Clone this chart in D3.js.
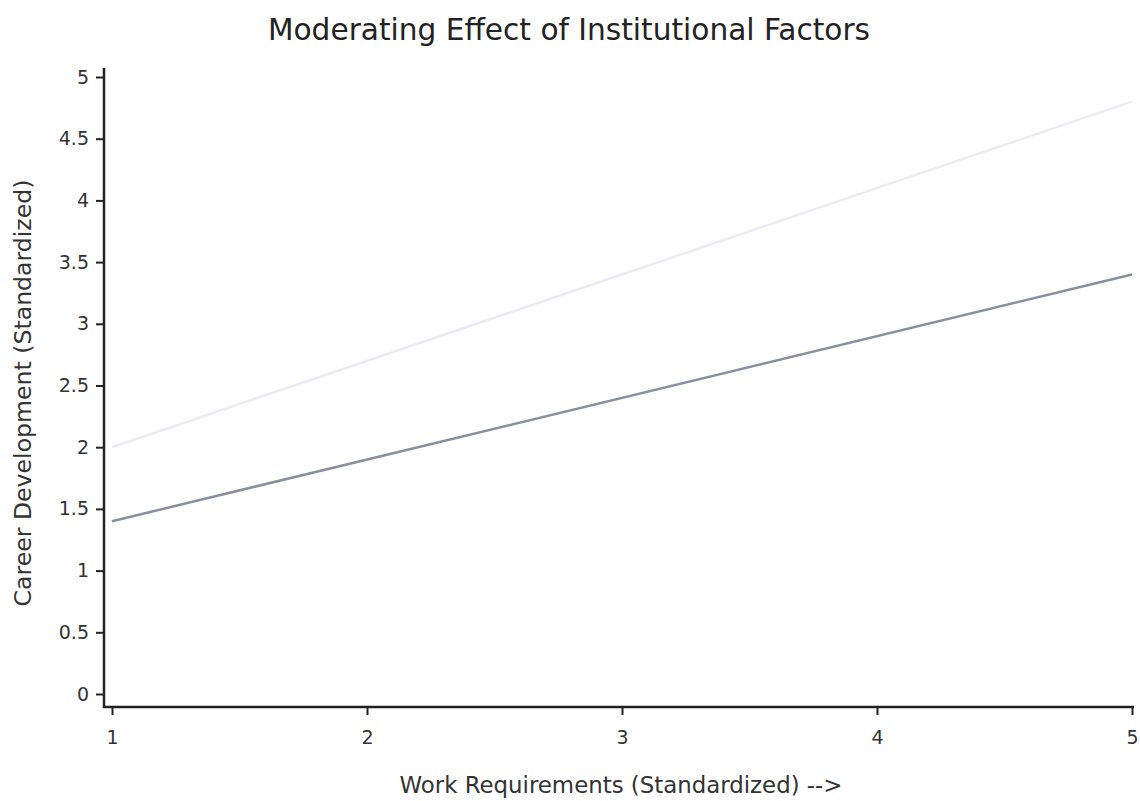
<!DOCTYPE html>
<html><head><meta charset="utf-8">
<script src="https://cdn.jsdelivr.net/npm/d3@7"></script>
<style>body{margin:0;background:#fff}svg{display:block}</style>
</head><body><svg id="c" width="1140" height="801"></svg>
<script>
const workReq = [1, 5];
const highInst = [2.0, 4.8];
const lowInst = [1.4, 3.4];
const xTicks = [1, 2, 3, 4, 5];
const yTicks = [0, 0.5, 1, 1.5, 2, 2.5, 3, 3.5, 4, 4.5, 5];
const title = "Moderating Effect of Institutional Factors";
const xLabel = "Work Requirements (Standardized) -->";
const yLabel = "Career Development (Standardized)";

const svg = d3.select("#c");
const font = "'DejaVu Sans', sans-serif";
const x = d3.scaleLinear().domain([1, 5]).range([112, 1132]);
const y = d3.scaleLinear().domain([0, 5]).range([694, 77]);

function fit(sel, target) {
  const w = sel.node().getComputedTextLength();
  const fs = +sel.attr("font-size");
  sel.attr("font-size", (fs * target / w).toFixed(2));
}

const t = svg.append("text").attr("x", 569).attr("y", 40).attr("text-anchor", "middle")
  .attr("font-family", font).attr("font-size", 28).attr("fill", "#222").text(title);
fit(t, 602);

// y axis
const ya = svg.append("g").attr("transform", "translate(104,0)")
  .call(d3.axisLeft(y).tickValues(yTicks).tickSize(8).tickPadding(7).tickFormat(d3.format("")));
ya.select(".domain").attr("d", "M0,68V708");
// x axis
const xa = svg.append("g").attr("transform", "translate(0,707)")
  .call(d3.axisBottom(x).tickValues(xTicks).tickSize(8).tickPadding(16).tickFormat(d3.format("d")));
xa.select(".domain").attr("d", "M103,0H1134");
[ya, xa].forEach(a => {
  a.select(".domain").attr("stroke", "#222").attr("stroke-width", 2.5);
  a.selectAll(".tick line").attr("stroke", "#222").attr("stroke-width", 2);
  a.selectAll(".tick text").attr("font-family", font).attr("font-size", 19).attr("fill", "#333");
});

const yl = svg.append("text").attr("transform", "translate(31,393) rotate(-90)").attr("text-anchor", "middle")
  .attr("font-family", font).attr("font-size", 22).attr("fill", "#333").text(yLabel);
fit(yl, 427);
const xl = svg.append("text").attr("x", 621).attr("y", 793).attr("text-anchor", "middle")
  .attr("font-family", font).attr("font-size", 22).attr("fill", "#333").text(xLabel);
fit(xl, 443);

const line = d3.line().x(d => x(d[0])).y(d => y(d[1]));
svg.append("path").datum(workReq.map((v, i) => [v, highInst[i]]))
  .attr("d", line).attr("fill", "none").attr("stroke", "#ebebf8").attr("stroke-width", 2.5);
svg.append("path").datum(workReq.map((v, i) => [v, lowInst[i]]))
  .attr("d", line).attr("fill", "none").attr("stroke", "#878fa0").attr("stroke-width", 2.5);
</script></body></html>
